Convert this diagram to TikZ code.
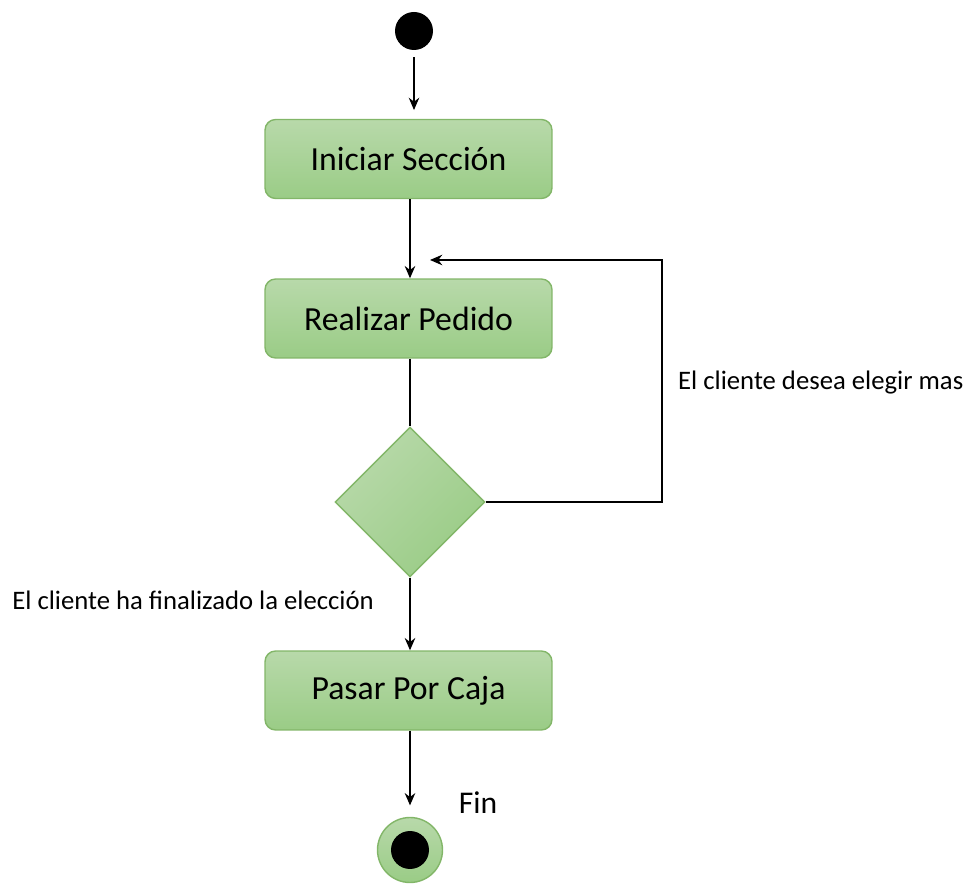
\documentclass[tikz,border=0pt]{standalone}
\usepackage{fontspec}
\setmainfont{Carlito}
\usetikzlibrary{shapes.geometric,arrows.meta,calc}

\begin{document}
\begin{tikzpicture}[x=0.02cm,y=-0.02cm]

\definecolor{boxlight}{RGB}{184,217,170}
\definecolor{boxdark}{RGB}{154,204,134}
\definecolor{boxborder}{RGB}{130,182,104}

\tikzset{
  activity/.style={rectangle, rounded corners=6pt, draw=boxborder, line width=0.8pt,
    top color=boxlight, bottom color=boxdark, minimum width=5.74cm, minimum height=1.58cm,
    font=\fontsize{19.2}{22}\selectfont},
  decision/.style={diamond, aspect=1, draw=boxborder, line width=0.8pt,
    top color=boxlight, bottom color=boxdark, shading angle=45,
    minimum width=3cm, minimum height=3cm, inner sep=0pt},
  startdot/.style={circle, fill=black, minimum size=0.76cm, inner sep=0pt},
  enddot/.style={circle, draw=boxborder, line width=0.8pt, top color=boxlight, bottom color=boxdark,
    minimum size=1.3cm, inner sep=0pt,
    path picture={\fill[black] (path picture bounding box.center) circle (0.38cm);}},
  guard/.style={font=\fontsize{15.2}{18}\selectfont},
  flow/.style={line width=0.8pt, -{Stealth[length=7pt,width=6pt]}}
}

\useasboundingbox (0,0) rectangle (967,884);

\node [startdot] (start) at (414,31) {};
\node [activity] (inicio) at (408.5,159) {Iniciar Sección};
\node [activity] (pedido) at (408.5,318.5) {Realizar Pedido};
\node [decision] (dec) at (410,502) {};
\node [activity] (caja) at (408.5,690.5) {Pasar Por Caja};
\node [enddot] (fin) at (410,850) {};

\coordinate (corner) at (662,260);
\coordinate (loopend) at (430,260);

\node [guard, anchor=west] (mas) at (672,383) {El cliente desea elegir mas};
\node [guard, anchor=east] (listo) at (380,600) {El cliente ha finalizado la elección};
\node [font=\fontsize{18}{20}\selectfont] (finlabel) at (478,803) {Fin};

\draw [flow, shorten <=4pt, shorten >=5pt] (start) -- (start |- inicio.north);
\draw [flow] (410,0 |- inicio.south) -- (410,0 |- pedido.north);
\draw [line width=0.8pt] (410,0 |- pedido.south) -- (dec.north);
\draw [flow] (dec.east) -| (corner) -- (loopend);
\draw [flow] (dec.south) -- (410,0 |- caja.north);
\draw [flow, shorten >=6.5pt] (410,0 |- caja.south) -- (fin.north);

\end{tikzpicture}
\end{document}
